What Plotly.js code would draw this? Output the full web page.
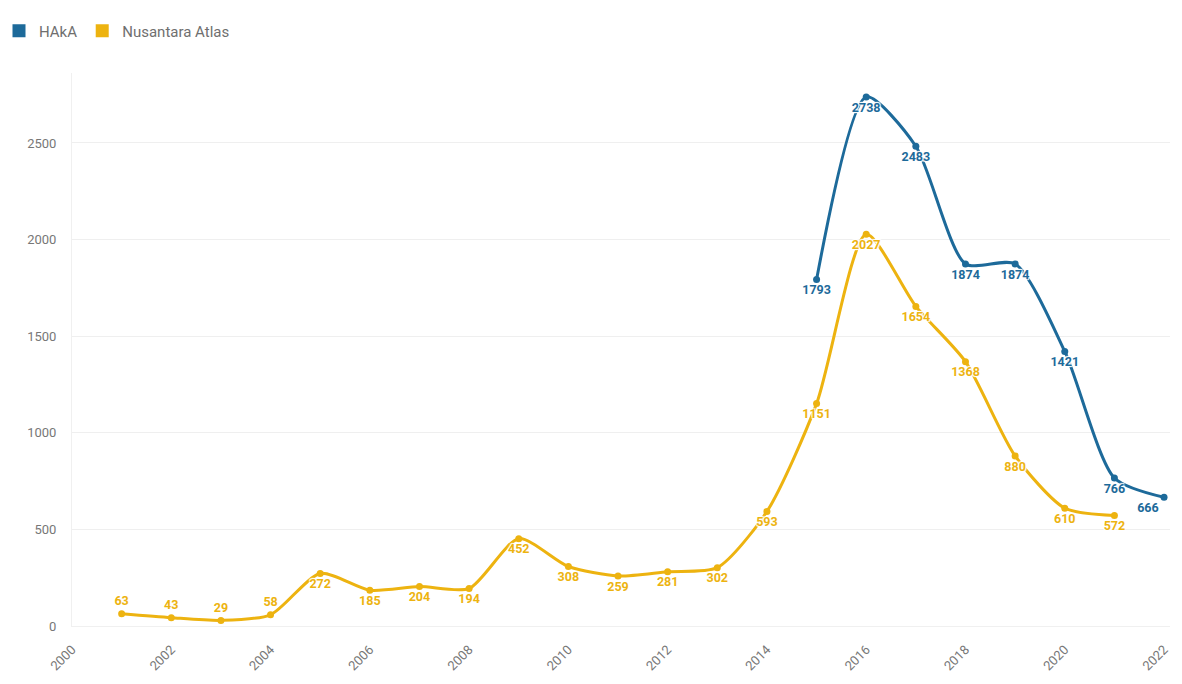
<!DOCTYPE html>
<html>
<head>
<meta charset="utf-8">
<script src="https://cdn.plot.ly/plotly-3.0.1.min.js"></script>
<style>html,body{margin:0;padding:0;background:#fff;}#chart{width:1182px;height:684px;}</style>
</head>
<body>
<div id="chart"></div>
<script>
const nusYears = [2001,2002,2003,2004,2005,2006,2007,2008,2009,2010,2011,2012,2013,2014,2015,2016,2017,2018,2019,2020,2021];
const nusValues = [63,43,29,58,272,185,204,194,452,308,259,281,302,593,1151,2027,1654,1368,880,610,572];
const nusLabelPos = ['top center','top center','top center','top center','bottom center','bottom center','bottom center','bottom center','bottom center','bottom center','bottom center','bottom center','bottom center','bottom center','bottom center','bottom center','bottom center','bottom center','bottom center','bottom center','bottom center'];
const hakaYears = [2015,2016,2017,2018,2019,2020,2021,2022];
const hakaValues = [1793,2738,2483,1874,1874,1421,766,666];
const hakaLabelPos = ['bottom center','bottom center','bottom center','bottom center','bottom center','bottom center','bottom center','bottom left'];
const xTicks = [2000,2002,2004,2006,2008,2010,2012,2014,2016,2018,2020,2022];
const yTicks = [0,500,1000,1500,2000,2500];
const seriesNames = ['HAkA','Nusantara Atlas'];

const BLUE = '#1d6a9a';
const YELLOW = '#edb310';
const FONT = 'Roboto, "Noto Sans", sans-serif';
const HALO = '1px 1px 1px #fff, -1px -1px 1px #fff, 1px -1px 1px #fff, -1px 1px 1px #fff';

const traces = [
  {
    x: hakaYears, y: hakaValues, type: 'scatter', mode: 'lines+markers+text',
    name: seriesNames[0], showlegend: false,
    line: {color: BLUE, width: 3, shape: 'spline', smoothing: 0.7},
    marker: {color: BLUE, size: 7},
    text: hakaValues.map(String), textposition: hakaLabelPos,
    textfont: {color: BLUE, size: 12.5, family: FONT, weight: 'bold', shadow: HALO},
    cliponaxis: false, hoverinfo: 'x+y'
  },
  {
    x: nusYears, y: nusValues, type: 'scatter', mode: 'lines+markers+text',
    name: seriesNames[1], showlegend: false,
    line: {color: YELLOW, width: 3, shape: 'spline', smoothing: 0.7},
    marker: {color: YELLOW, size: 7},
    text: nusValues.map(String), textposition: nusLabelPos,
    textfont: {color: YELLOW, size: 12.5, family: FONT, weight: 'bold', shadow: HALO},
    cliponaxis: false, hoverinfo: 'x+y'
  },
  {x: [null], y: [null], type: 'scatter', mode: 'markers', name: seriesNames[0],
   marker: {color: BLUE, symbol: 'square', size: 13}},
  {x: [null], y: [null], type: 'scatter', mode: 'markers', name: seriesNames[1],
   marker: {color: YELLOW, symbol: 'square', size: 13}}
];

const M = {l: 72, r: 12, t: 73, b: 58, autoexpand: false};
const plotH = 684 - M.t - M.b;
const plotW = 1182 - M.l - M.r;

const layout = {
  width: 1182, height: 684,
  margin: M,
  paper_bgcolor: '#ffffff', plot_bgcolor: '#ffffff',
  font: {family: FONT, color: '#777', size: 12},
  showlegend: true,
  legend: {orientation: 'h', x: -73/plotW, y: 1 + 42/plotH, xanchor: 'left', yanchor: 'middle',
    font: {size: 15, color: '#6f6f6f', family: FONT}, itemwidth: 30, tracegroupgap: 0,
    bgcolor: 'rgba(0,0,0,0)'},
  xaxis: {
    range: [2000, 2022.12], tickvals: xTicks, ticktext: xTicks.map(String),
    tickangle: -45, showgrid: false, zeroline: false, automargin: false,
    showline: true, linecolor: '#f0f0f0', mirror: false, side: 'bottom',
    ticks: 'outside', ticklen: 10, tickcolor: 'rgba(0,0,0,0)',
    tickfont: {size: 13, color: '#777'}, fixedrange: true
  },
  yaxis: {
    range: [0, 2862], tickvals: yTicks, ticktext: yTicks.map(String),
    showgrid: true, gridcolor: '#efefef', gridwidth: 1, zeroline: true, zerolinecolor: '#e8e8e8',
    showline: true, linecolor: '#f0f0f0', automargin: false,
    ticks: 'outside', ticklen: 12, tickcolor: 'rgba(0,0,0,0)',
    tickfont: {size: 13, color: '#777'}, fixedrange: true
  }
};

Plotly.newPlot('chart', traces, layout, {displayModeBar: false, staticPlot: true});
</script>
</body>
</html>
